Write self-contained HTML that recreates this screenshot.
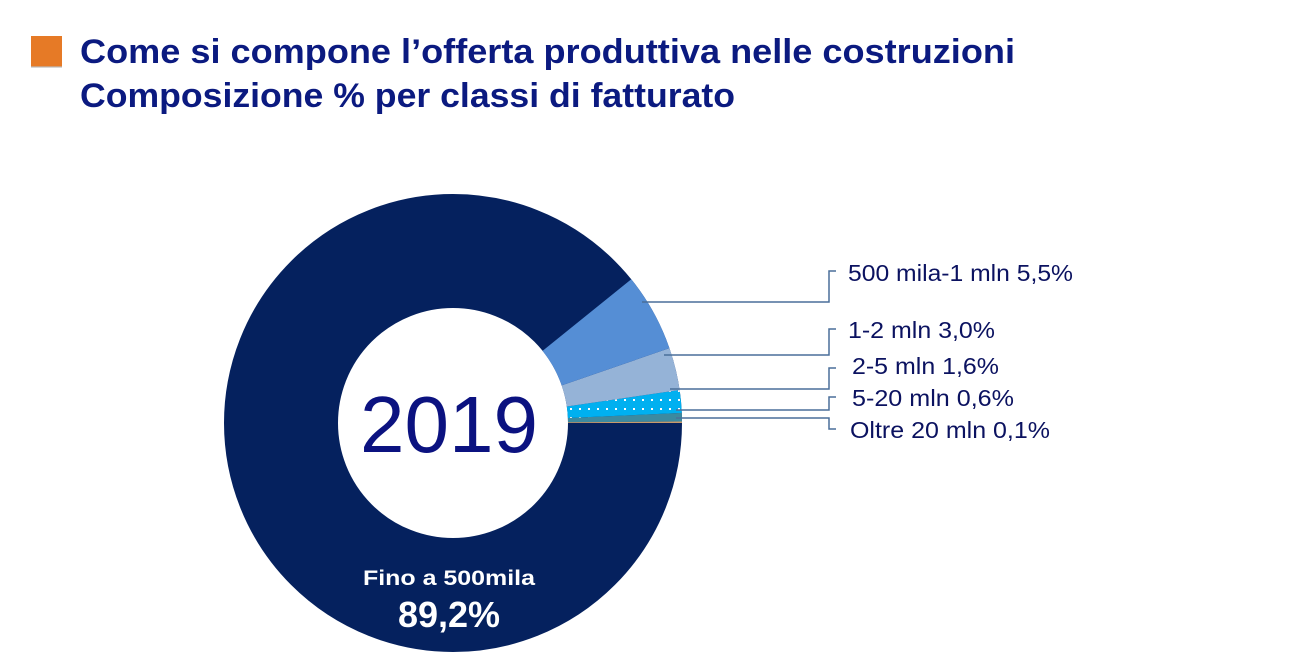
<!DOCTYPE html>
<html><head><meta charset="utf-8"><style>html,body{margin:0;padding:0;background:#fff}svg{display:block}</style></head>
<body>
<svg width="1299" height="668" viewBox="0 0 1299 668" xmlns="http://www.w3.org/2000/svg" font-family="Liberation Sans, Arial, sans-serif">
<defs>
<pattern id="dots" width="9" height="9" patternUnits="userSpaceOnUse">
<rect width="9" height="9" fill="#00b0f0"/><rect x="3" y="3" width="2" height="2" fill="#fff"/>
</pattern>
</defs>
<rect x="31" y="36" width="31" height="31" fill="#e67a26"/>
<rect x="31" y="66" width="31" height="2" fill="#bbb" opacity="0.6"/>
<text x="80" y="63" font-size="34" font-weight="bold" fill="#0b1a80" textLength="935" lengthAdjust="spacingAndGlyphs">Come si compone l’offerta produttiva nelle costruzioni</text>
<text x="80" y="107" font-size="34" font-weight="bold" fill="#0b1a80" textLength="655" lengthAdjust="spacingAndGlyphs">Composizione % per classi di fatturato</text>

<circle cx="453" cy="423" r="172" fill="none" stroke="#05215e" stroke-width="114"/>
<path d="M682.0 421.56 A229 229 0 0 0 681.78 412.93 L567.89 417.94 A115 115 0 0 1 568.0 422.28 Z" fill="#3c8aa0"/>
<path d="M682.0 423 A229 229 0 0 0 682.0 421.56 L568.0 422.28 A115 115 0 0 1 568 423 Z" fill="#c99a6a"/>
<path d="M681.78 412.93 A229 229 0 0 0 679.61 390.02 L566.80 406.44 A115 115 0 0 1 567.89 417.94 Z" fill="url(#dots)"/>
<path d="M679.61 390.02 A229 229 0 0 0 669.42 348.14 L561.68 385.41 A115 115 0 0 1 566.80 406.44 Z" fill="#95b3d7"/>
<path d="M669.42 348.14 A229 229 0 0 0 631.28 279.27 L542.53 350.82 A115 115 0 0 1 561.68 385.41 Z" fill="#558ed5"/>

<g fill="none" stroke="#4a6f9a" stroke-width="1.5">
<polyline points="642,302 829,302 829,271 836,271"/>
<polyline points="664,355 829,355 829,329 836,329"/>
<polyline points="670,389 829,389 829,368 836,368"/>
<polyline points="676,410 829,410 829,397 836,397"/>
<polyline points="676,418 829,418 829,429 836,429"/>
</g>
<g font-size="23" fill="#0b1260">
<text x="848" y="281" textLength="225" lengthAdjust="spacingAndGlyphs">500 mila-1 mln 5,5%</text>
<text x="848" y="338" textLength="147" lengthAdjust="spacingAndGlyphs">1-2 mln 3,0%</text>
<text x="852" y="374" textLength="147" lengthAdjust="spacingAndGlyphs">2-5 mln 1,6%</text>
<text x="852" y="406" textLength="162" lengthAdjust="spacingAndGlyphs">5-20 mln 0,6%</text>
<text x="850" y="438" textLength="200" lengthAdjust="spacingAndGlyphs">Oltre 20 mln 0,1%</text>
</g>
<text x="449" y="452" font-size="80" fill="#0b1280" text-anchor="middle">2019</text>
<text x="449" y="585" font-size="21" font-weight="bold" fill="#fff" text-anchor="middle" textLength="172" lengthAdjust="spacingAndGlyphs">Fino a 500mila</text>
<text x="449" y="627" font-size="36" font-weight="bold" fill="#fff" text-anchor="middle">89,2%</text>
</svg>
</body></html>
